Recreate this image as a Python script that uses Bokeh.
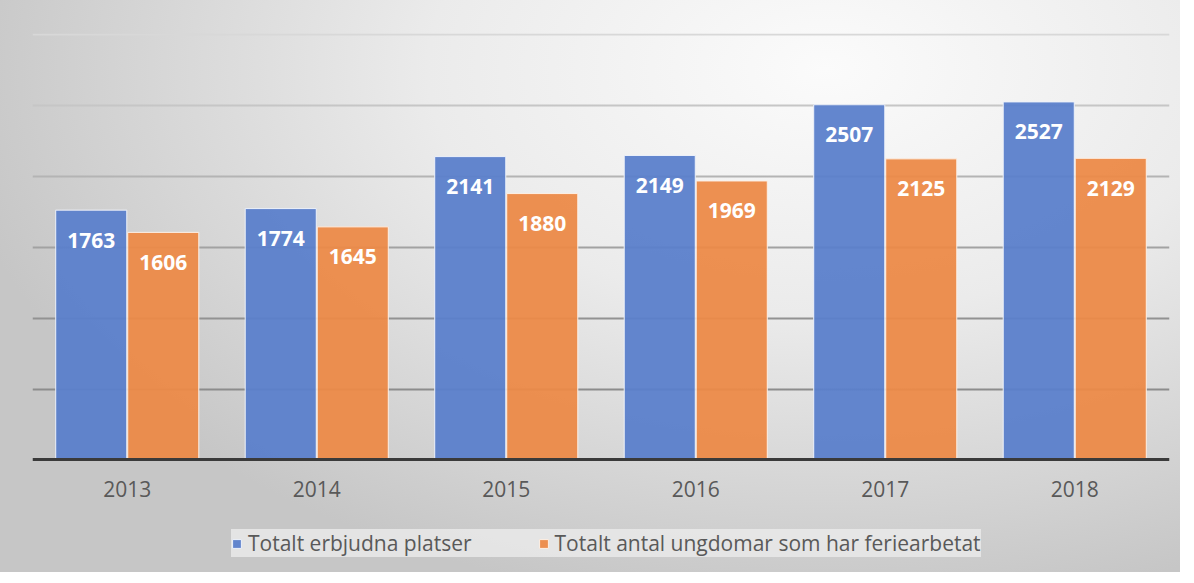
from bokeh.plotting import figure
from bokeh.models import ColumnDataSource, Legend, LegendItem
from bokeh.transform import dodge
from bokeh.core.properties import value
from bokeh.embed import file_html
from bokeh.resources import INLINE

years = ["2013", "2014", "2015", "2016", "2017", "2018"]
platser = [1763, 1774, 2141, 2149, 2507, 2527]
ungdomar = [1606, 1645, 1880, 1969, 2125, 2129]
series_names = ["Totalt erbjudna platser", "Totalt antal ungdomar som har feriearbetat"]
grid_values = [500, 1000, 1500, 2000, 2500, 3000]
grid_colors = ["#8c8c8c", "#929292", "#a2a2a2", "#b4b4b4", "#c6c6c6", "#d8d8d8"]

BLUE = "#5b7fcb"
ORANGE = "#ec8a48"
FONT = "Open Sans"

src = ColumnDataSource(dict(
    years=years, platser=platser, ungdomar=ungdomar,
    platser_txt=[str(v) for v in platser],
    ungdomar_txt=[str(v) for v in ungdomar],
))

# frame spans down to the bottom of the figure; the category axis is pinned
# at value 0 so the legend can sit below it
p = figure(x_range=years, y_range=(-795, 3010), width=1180, height=572,
           output_backend="svg", toolbar_location=None, y_axis_location=None,
           min_border_left=32, min_border_right=11, min_border_top=33,
           min_border_bottom=0)
p.background_fill_alpha = 0
p.border_fill_alpha = 0
p.outline_line_color = None
p.styles = {
    "background-image": "radial-gradient(ellipse 75% 95% at 70% 12%, #fbfbfb 0%, #ebebeb 45%, #c6c6c6 100%)",
}
p.x_range.range_padding = 0
p.xgrid.grid_line_color = None
p.ygrid.grid_line_color = None

p.hspan(y=grid_values, line_color=grid_colors, line_width=2)

b1 = p.vbar(x=dodge("years", -0.19, range=p.x_range), top="platser", width=0.375,
            source=src, fill_color=BLUE, fill_alpha=0.95,
            line_color="#eef2fa", line_width=1)
b2 = p.vbar(x=dodge("years", 0.19, range=p.x_range), top="ungdomar", width=0.375,
            source=src, fill_color=ORANGE, fill_alpha=0.95,
            line_color="#fdf0e6", line_width=1)

for col, txt, dx in [("platser", "platser_txt", -0.19), ("ungdomar", "ungdomar_txt", 0.19)]:
    p.text(x=dodge("years", dx, range=p.x_range), y=col, text=txt, source=src,
           text_align="center", text_baseline="middle", y_offset=30,
           text_color="white", text_font=value(FONT), text_font_style="bold",
           text_font_size="21px")

ax = p.xaxis[0]
ax.fixed_location = 0
ax.axis_line_color = "#3a3a3a"
ax.axis_line_width = 3
ax.major_tick_line_color = None
ax.minor_tick_line_color = None
ax.major_label_standoff = 15
ax.major_label_text_font = FONT
ax.major_label_text_font_size = "21px"
ax.major_label_text_color = "#595959"

legend = Legend(items=[LegendItem(label=series_names[0], renderers=[b1]),
                       LegendItem(label=series_names[1], renderers=[b2])],
                orientation="horizontal", location=(199, 15))
legend.label_text_font = FONT
legend.label_text_font_size = "21px"
legend.label_text_color = "#595959"
legend.glyph_width = 11
legend.glyph_height = 11
legend.label_standoff = 6
legend.spacing = 66
legend.padding = 4
legend.margin = 0
legend.background_fill_color = "#ebebeb"
legend.background_fill_alpha = 0.8
legend.border_line_color = None
p.add_layout(legend)

open("out.html", "w").write(file_html(p, INLINE))
